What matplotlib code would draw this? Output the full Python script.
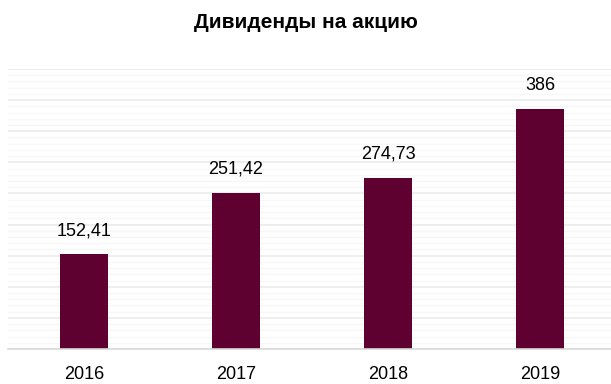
import matplotlib
matplotlib.use("Agg")
import matplotlib.pyplot as plt
import numpy as np
from matplotlib.ticker import MultipleLocator

plt.rcParams['font.family'] = ['Liberation Sans', 'DejaVu Sans']

years = ["2016", "2017", "2018", "2019"]
dividends = [152.41, 251.42, 274.73, 386]
value_labels = ["152,41", "251,42", "274,73", "386"]

bar_color = "#5E0030"

fig = plt.figure(figsize=(6.11, 3.84), dpi=100)
ax = fig.add_axes([8 / 611, 35 / 384, 608 / 611, 280 / 384])

x = np.arange(len(years))
bars = ax.bar(x, dividends, width=0.315, color=bar_color, zorder=3)

ax.set_xlim(-0.5, 3.5)
ax.set_ylim(0, 450)
ax.yaxis.set_major_locator(MultipleLocator(50))
ax.yaxis.set_minor_locator(MultipleLocator(10))
ax.grid(axis='y', which='major', color='#EBEBEB', linewidth=1.2, zorder=0)
ax.grid(axis='y', which='minor', color='#F7F7F7', linewidth=1.0, zorder=0)

for s in ['top', 'right', 'left']:
    ax.spines[s].set_visible(False)
ax.spines['bottom'].set_color('#D9D9D9')
ax.spines['bottom'].set_linewidth(1.2)
ax.spines['bottom'].set_zorder(4)

ax.set_xticks(x)
ax.set_xticklabels(years, fontsize=13, color='#000000')
ax.tick_params(axis='x', length=0, pad=12.5)
ax.tick_params(axis='y', which='both', left=False, labelleft=False)

for xi, v, lbl in zip(x, dividends, value_labels):
    ax.annotate(lbl, (xi, v), xytext=(0, 17), textcoords='offset points',
                ha='center', va='center', fontsize=13, color='#000000')

fig.text(0.5, 1 - 23 / 384, "Дивиденды на акцию", ha='center', va='center',
         fontsize=15, fontweight='bold', color='#000000')

fig.savefig("out.png", dpi=100, facecolor='white')
